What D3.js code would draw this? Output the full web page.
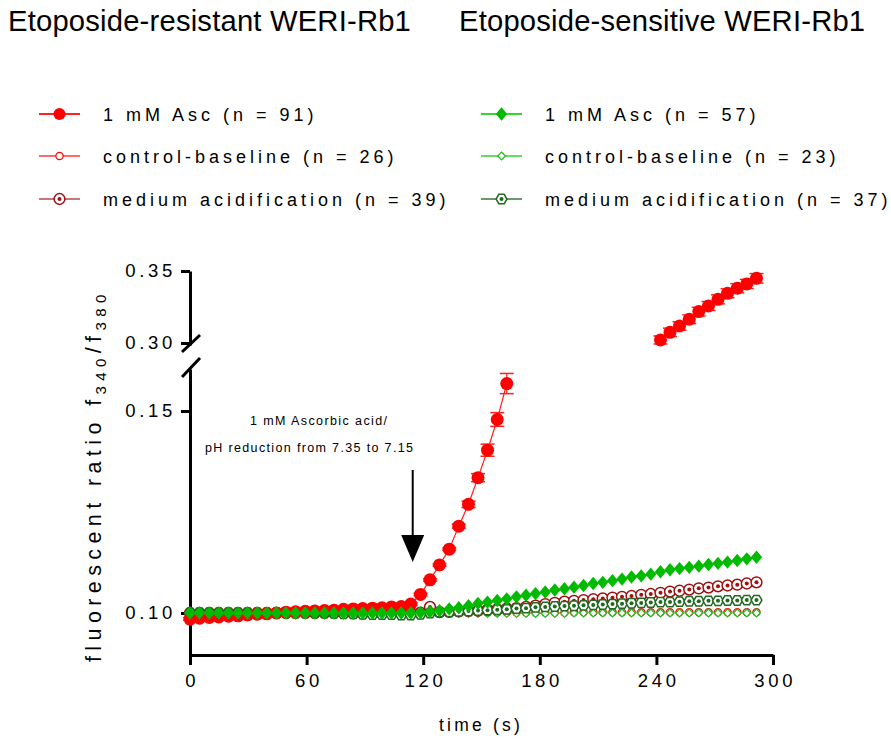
<!DOCTYPE html>
<html>
<head>
<meta charset="utf-8">
<script src="https://cdn.jsdelivr.net/npm/d3@7/dist/d3.min.js"></script>
<style>
body { margin: 0; background: #fff; }
svg { display: block; font-family: Arial, "Liberation Sans", sans-serif; }
</style>
</head>
<body>
<svg id="chart" width="891" height="740"></svg>
<script>
// time points (s)
var times = [0, 4.9, 9.9, 14.8, 19.8, 24.7, 29.6, 34.6, 39.5, 44.5,
  49.4, 54.3, 59.3, 64.2, 69.2, 74.1, 79.0, 84.0, 88.9, 93.9,
  98.8, 103.7, 108.7, 113.6, 118.6, 123.5, 128.4, 133.4, 138.3, 143.3,
  148.2, 153.1, 158.1, 163.0, 168.0, 172.9, 177.8, 182.8, 187.7, 192.7,
  197.6, 202.5, 207.5, 212.4, 217.4, 222.3, 227.2, 232.2, 237.1, 242.1,
  247.0, 251.9, 256.9, 261.8, 266.8, 271.7, 276.6, 281.6, 286.5, 291.5];

// etoposide-resistant
var ascRes = [0.0985, 0.0987, 0.0989, 0.0990, 0.0992, 0.0993, 0.0995, 0.0997, 0.0998, 0.1000,
  0.1002, 0.1003, 0.1004, 0.1005, 0.1006, 0.1007, 0.1009, 0.1010, 0.1011, 0.1012,
  0.1013, 0.1015, 0.1016, 0.1022, 0.1046, 0.1082, 0.1119, 0.1158, 0.1215, 0.1269,
  0.1335, 0.1403, 0.1479, 0.1568, null, null, null, null, null, null,
  null, null, null, null, null, null, null, null, null, 0.3021,
  0.3074, 0.3118, 0.3165, 0.3218, 0.3257, 0.3303, 0.3345, 0.3380, 0.3410, 0.3449];
var ascResErr = [0.0003, 0.0003, 0.0003, 0.0003, 0.0003, 0.0003, 0.0003, 0.0003, 0.0003, 0.0003,
  0.0003, 0.0003, 0.0003, 0.0003, 0.0003, 0.0003, 0.0003, 0.0003, 0.0003, 0.0003,
  0.0003, 0.0003, 0.0003, 0.0003, 0.0003, 0.0003, 0.0003, 0.0003, 0.0005, 0.0008,
  0.0010, 0.0015, 0.0017, 0.0025, null, null, null, null, null, null,
  null, null, null, null, null, null, null, null, null, 0.0028,
  0.0029, 0.0029, 0.0030, 0.0030, 0.0031, 0.0031, 0.0031, 0.0032, 0.0032, 0.0033];
var ctrlRes = [0.1000, 0.1000, 0.1000, 0.1000, 0.1000, 0.1000, 0.1000, 0.1000, 0.1000, 0.1000,
  0.1000, 0.1000, 0.1000, 0.1000, 0.1000, 0.1000, 0.1000, 0.1000, 0.1000, 0.1000,
  0.1000, 0.1000, 0.1000, 0.1000, 0.1000, 0.1001, 0.1001, 0.1001, 0.1001, 0.1001,
  0.1001, 0.1001, 0.1001, 0.1001, 0.1001, 0.1001, 0.1001, 0.1001, 0.1001, 0.1001,
  0.1002, 0.1002, 0.1002, 0.1002, 0.1002, 0.1002, 0.1002, 0.1002, 0.1002, 0.1002,
  0.1002, 0.1002, 0.1002, 0.1002, 0.1002, 0.1002, 0.1002, 0.1002, 0.1002, 0.1002];
var medRes = [0.1000, 0.1000, 0.1000, 0.1000, 0.1000, 0.1000, 0.1000, 0.1000, 0.1000, 0.1000,
  0.1000, 0.1000, 0.1000, 0.1000, 0.1000, 0.1000, 0.1000, 0.0999, 0.0999, 0.0999,
  0.0999, 0.0999, 0.1000, 0.1000, 0.1001, 0.1015, 0.1002, 0.1003, 0.1004, 0.1005,
  0.1006, 0.1008, 0.1009, 0.1011, 0.1012, 0.1015, 0.1018, 0.1022, 0.1025, 0.1028,
  0.1030, 0.1032, 0.1034, 0.1036, 0.1038, 0.1040, 0.1042, 0.1045, 0.1047, 0.1050,
  0.1053, 0.1055, 0.1058, 0.1061, 0.1063, 0.1066, 0.1068, 0.1070, 0.1073, 0.1076];

// etoposide-sensitive
var ascSen = [0.1000, 0.1000, 0.1000, 0.1000, 0.1000, 0.1000, 0.1000, 0.1000, 0.1000, 0.1000,
  0.1000, 0.1000, 0.1000, 0.1000, 0.1000, 0.1000, 0.1000, 0.1000, 0.1000, 0.1000,
  0.1000, 0.1000, 0.1000, 0.1000, 0.1001, 0.1003, 0.1006, 0.1010, 0.1013, 0.1018,
  0.1024, 0.1027, 0.1031, 0.1035, 0.1040, 0.1044, 0.1048, 0.1052, 0.1057, 0.1060,
  0.1064, 0.1068, 0.1073, 0.1076, 0.1080, 0.1084, 0.1089, 0.1092, 0.1096, 0.1102,
  0.1107, 0.1110, 0.1113, 0.1116, 0.1120, 0.1123, 0.1126, 0.1130, 0.1134, 0.1138];
var ctrlSen = [0.1000, 0.1000, 0.1000, 0.1000, 0.1000, 0.1000, 0.1000, 0.1000, 0.1000, 0.1000,
  0.1000, 0.1000, 0.1000, 0.1000, 0.1000, 0.1000, 0.1000, 0.1000, 0.1000, 0.1000,
  0.1000, 0.1000, 0.1000, 0.1000, 0.1000, 0.0999, 0.0999, 0.0999, 0.0999, 0.0999,
  0.0999, 0.0999, 0.0999, 0.0999, 0.0999, 0.0999, 0.0999, 0.0999, 0.0999, 0.0999,
  0.1000, 0.1000, 0.1000, 0.1000, 0.1000, 0.1000, 0.1000, 0.1000, 0.1000, 0.1000,
  0.1000, 0.1000, 0.1000, 0.1000, 0.1000, 0.1000, 0.1000, 0.1000, 0.1000, 0.1000];
var medSen = [0.1000, 0.1000, 0.1000, 0.1000, 0.1000, 0.1000, 0.1000, 0.1000, 0.1000, 0.1000,
  0.1000, 0.1000, 0.1000, 0.1000, 0.1000, 0.0999, 0.0998, 0.0998, 0.0997, 0.0996,
  0.0996, 0.0996, 0.0995, 0.0995, 0.0997, 0.1000, 0.1002, 0.1003, 0.1004, 0.1005,
  0.1006, 0.1007, 0.1008, 0.1009, 0.1011, 0.1012, 0.1014, 0.1015, 0.1016, 0.1017,
  0.1018, 0.1019, 0.1020, 0.1021, 0.1022, 0.1023, 0.1024, 0.1025, 0.1026, 0.1027,
  0.1027, 0.1028, 0.1029, 0.1029, 0.1030, 0.1030, 0.1031, 0.1031, 0.1032, 0.1032];

var titles = ["Etoposide-resistant WERI-Rb1", "Etoposide-sensitive WERI-Rb1"];
var legendRes = ["1 mM Asc (n = 91)", "control-baseline (n = 26)", "medium acidification (n = 39)"];
var legendSen = ["1 mM Asc (n = 57)", "control-baseline (n = 23)", "medium acidification (n = 37)"];
var xTicks = [0, 60, 120, 180, 240, 300];
var yTicksLow = [0.10, 0.15];
var yTicksHigh = [0.30, 0.35];

var svg = d3.select("#chart");

var x = d3.scaleLinear().domain([0, 300]).range([190, 773]);
var yLo = d3.scaleLinear().domain([0.0896, 0.1604]).range([655, 369]);
var yHi = d3.scaleLinear().domain([0.2986, 0.35]).range([345, 271]);
function yPos(v) { return v > 0.2 ? yHi(v) : yLo(v); }

// marker shapes
function diamond(w, h) {
  return "M0," + (-h / 2) + "L" + (w / 2) + ",0L0," + (h / 2) + "L" + (-w / 2) + ",0Z";
}
function hexagon(r) {
  var p = d3.range(6).map(function(i) {
    var a = i * Math.PI / 3;
    return [r * Math.cos(a), r * Math.sin(a)];
  });
  return "M" + p.join("L") + "Z";
}

var ascResS = {values: ascRes, err: ascResErr, line: "#ff2020", kind: "dot", color: "#ff0000", r: 6.5, lr: 6};
var ctrlResS = {values: ctrlRes, line: "#ff6a6a", kind: "ring", color: "#ff0000", r: 3.6, lr: 3.6};
var medResS = {values: medRes, line: "#c87878", kind: "ringdot", color: "#a01010", r: 5.4, lr: 5.4};
var ascSenS = {values: ascSen, line: "#33d633", kind: "diamond", color: "#00bb00", r: 6.5, lr: 6.5};
var ctrlSenS = {values: ctrlSen, line: "#66dd66", kind: "odiamond", color: "#22bb22", r: 4, lr: 4};
var medSenS = {values: medSen, line: "#6a9a6a", kind: "hexdot", color: "#1f6a1f", r: 5.4, lr: 5.4};

// drawing order: baselines first, Asc traces on top
var drawOrder = [ctrlResS, ctrlSenS, medResS, medSenS, ascResS, ascSenS];

function drawMarker(g, s, r) {
  if (s.kind === "dot") {
    g.append("circle").attr("r", r).attr("fill", s.color);
  } else if (s.kind === "ring") {
    g.append("circle").attr("r", r).attr("fill", "#fff").attr("stroke", s.color).attr("stroke-width", 1.2);
  } else if (s.kind === "ringdot") {
    g.append("circle").attr("r", r).attr("fill", "#fff").attr("stroke", s.color).attr("stroke-width", 1.5);
    g.append("circle").attr("r", 2).attr("fill", s.color);
  } else if (s.kind === "diamond") {
    g.append("path").attr("d", diamond(r * 1.75, r * 2.05)).attr("fill", s.color);
  } else if (s.kind === "odiamond") {
    g.append("path").attr("d", diamond(r * 1.9, r * 2)).attr("fill", "#fff").attr("stroke", s.color).attr("stroke-width", 1.2);
  } else if (s.kind === "hexdot") {
    g.append("path").attr("d", hexagon(r)).attr("fill", "#fff").attr("stroke", s.color).attr("stroke-width", 1.5);
    g.append("circle").attr("r", 2).attr("fill", s.color);
  }
}

// titles
svg.selectAll("text.title").data(titles).enter().append("text")
  .attr("class", "title")
  .attr("x", function(d, i) { return i === 0 ? 8 : 459; })
  .attr("y", 31)
  .attr("font-size", 29.2)
  .attr("letter-spacing", 0.2)
  .text(function(d) { return d; });

// legends
function legend(labels, list, x0) {
  var rowsY = [114, 156, 199];
  labels.forEach(function(lab, i) {
    var s = list[i];
    var y = rowsY[i];
    svg.append("line").attr("x1", x0).attr("x2", x0 + 41).attr("y1", y).attr("y2", y)
      .attr("stroke", s.line).attr("stroke-width", 2);
    var g = svg.append("g").attr("transform", "translate(" + (x0 + 20.5) + "," + y + ")");
    drawMarker(g, s, s.lr);
    svg.append("text").attr("x", x0 + 64).attr("y", y + 6.5)
      .attr("font-size", 18).attr("letter-spacing", 4.0)
      .text(lab);
  });
}
legend(legendRes, [ascResS, ctrlResS, medResS], 39);
legend(legendSen, [ascSenS, ctrlSenS, medSenS], 481);

// axes
var axisStyle = function(g) {
  g.select(".domain").attr("stroke", "#000").attr("stroke-width", 3);
  g.selectAll(".tick line").attr("stroke", "#000").attr("stroke-width", 3);
  g.selectAll(".tick text").attr("font-size", 18.5).attr("letter-spacing", 3.7).attr("fill", "#000")
    .attr("font-family", "Arial, 'Liberation Sans', sans-serif");
};

svg.append("g").attr("transform", "translate(0,655)")
  .call(d3.axisBottom(x).tickValues(xTicks).tickSize(10).tickSizeOuter(0).tickPadding(9))
  .call(axisStyle)
  .call(function(g) { g.selectAll(".tick text").attr("dx", 1.8); });

svg.append("g").attr("transform", "translate(190,0)")
  .call(d3.axisLeft(yLo).tickValues(yTicksLow).tickSize(9).tickSizeOuter(0).tickPadding(5)
    .tickFormat(d3.format(".2f")))
  .call(axisStyle);

svg.append("g").attr("transform", "translate(190,0)")
  .call(d3.axisLeft(yHi).tickValues(yTicksHigh).tickSize(9).tickSizeOuter(0).tickPadding(5)
    .tickFormat(d3.format(".2f")))
  .call(axisStyle);

// break marks
[[352, 335], [377, 358]].forEach(function(b) {
  svg.append("line").attr("x1", 182).attr("y1", b[0]).attr("x2", 200).attr("y2", b[1])
    .attr("stroke", "#000").attr("stroke-width", 3);
});

// axis titles
svg.append("text").attr("x", 481).attr("y", 731).attr("text-anchor", "middle")
  .attr("font-size", 17.5).attr("letter-spacing", 3.2).text("time (s)");

var yt = svg.append("text").attr("transform", "translate(101,662) rotate(-90)")
  .attr("text-anchor", "start").attr("font-size", 21.5).attr("letter-spacing", 5.4);
yt.append("tspan").text("fluorescent ratio f");
yt.append("tspan").attr("font-size", 15).attr("dy", 5).text("340");
yt.append("tspan").attr("dy", -5).text("/f");
yt.append("tspan").attr("font-size", 15).attr("dy", 5).text("380");

// annotation
svg.append("text").attr("x", 250).attr("y", 425).attr("font-size", 12.5)
  .attr("letter-spacing", 1.4).text("1 mM Ascorbic acid/");
svg.append("text").attr("x", 205).attr("y", 452).attr("font-size", 12.5)
  .attr("letter-spacing", 1.35).text("pH reduction from 7.35 to 7.15");
svg.append("line").attr("x1", x(114.6)).attr("x2", x(114.6)).attr("y1", 470).attr("y2", 537)
  .attr("stroke", "#000").attr("stroke-width", 2);
svg.append("path")
  .attr("d", "M" + (x(114.6) - 11.5) + ",535L" + (x(114.6) + 11.5) + ",535L" + x(114.6) + ",562Z")
  .attr("fill", "#000");

// data
var line = d3.line()
  .defined(function(d) { return d.v != null; })
  .x(function(d) { return x(d.t); })
  .y(function(d) { return yPos(d.v); });

drawOrder.forEach(function(s) {
  var pts = s.values.map(function(v, i) { return {t: times[i], v: v, e: s.err ? s.err[i] : null}; });
  var g = svg.append("g");
  g.append("path").datum(pts).attr("d", line).attr("fill", "none")
    .attr("stroke", s.line).attr("stroke-width", 1.2);
  if (s.err) {
    var eb = g.selectAll("g.eb").data(pts.filter(function(d) { return d.v != null && d.e; }))
      .enter().append("g");
    eb.append("line")
      .attr("x1", function(d) { return x(d.t); }).attr("x2", function(d) { return x(d.t); })
      .attr("y1", function(d) { return yPos(d.v - d.e); }).attr("y2", function(d) { return yPos(d.v + d.e); })
      .attr("stroke", s.line).attr("stroke-width", 1.2);
    [-1, 1].forEach(function(sg) {
      eb.append("line")
        .attr("x1", function(d) { return x(d.t) - 7; }).attr("x2", function(d) { return x(d.t) + 7; })
        .attr("y1", function(d) { return yPos(d.v + sg * d.e); })
        .attr("y2", function(d) { return yPos(d.v + sg * d.e); })
        .attr("stroke", s.line).attr("stroke-width", 1.5);
    });
  }
  g.selectAll("g.m").data(pts.filter(function(d) { return d.v != null; })).enter().append("g")
    .attr("transform", function(d) { return "translate(" + x(d.t) + "," + yPos(d.v) + ")"; })
    .each(function() { drawMarker(d3.select(this), s, s.r); });
});
</script>
</body>
</html>
